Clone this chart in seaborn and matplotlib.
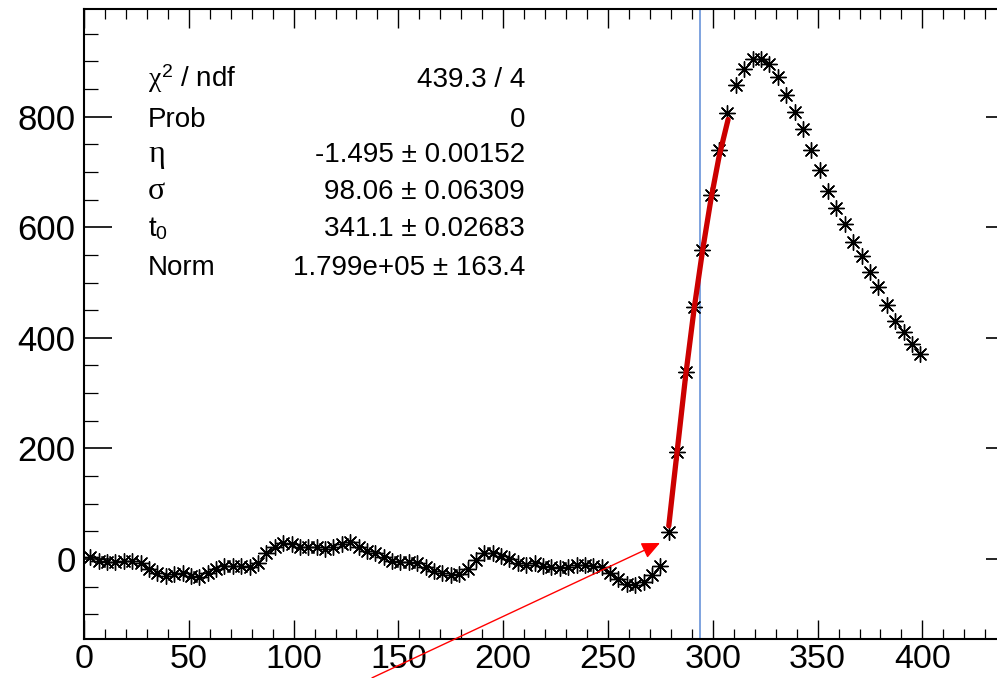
import matplotlib
matplotlib.use("Agg")
import matplotlib.pyplot as plt
from matplotlib.ticker import MultipleLocator
import seaborn as sns
import pandas as pd

sns.set_theme(style="white")
plt.rcParams['font.family'] = ['Liberation Sans', 'DejaVu Sans']
plt.rcParams['mathtext.fontset'] = 'custom'
plt.rcParams['mathtext.rm'] = 'Liberation Sans'
plt.rcParams['mathtext.it'] = 'Liberation Serif'
plt.rcParams['mathtext.default'] = 'it'

# ---- data (bin centres and contents) ----
bin_x = [3, 7, 11, 15, 19, 23, 27, 31, 35, 39, 43, 47, 51, 55, 59, 63, 67, 71, 75, 79,
         83, 87, 91, 95, 99, 103, 107, 111, 115, 119, 123, 127, 131, 135, 139, 143, 147,
         151, 155, 159, 163, 167, 171, 175, 179, 183, 187, 191, 195, 199, 203, 207, 211,
         215, 219, 223, 227, 231, 235, 239, 243, 247, 251, 255, 259, 263, 267, 271, 275,
         279, 283, 287, 291, 295, 299, 303, 307, 311, 315, 319, 323, 327, 331, 335, 339,
         343, 347, 351, 355, 359, 363, 367, 371, 375, 379, 383, 387, 391, 395, 399]
bin_y = [3, -3, -5, -5, -3, -3, -8, -18, -26, -31, -28, -25, -31, -33, -26, -19, -13, -13,
         -13, -14, -7, 10, 22, 29, 27, 22, 22, 21, 18, 22, 28, 31, 21, 15, 10, 3, -3, -5,
         -5, -7, -14, -21, -26, -29, -28, -18, -2, 10, 11, 5, 0, -8, -11, -8, -13, -15,
         -17, -15, -11, -11, -13, -14, -25, -37, -45, -47, -41, -29, -13,
         49, 193, 338, 456, 559, 658, 740, 807, 857, 887, 904, 904, 895, 872, 840, 808,
         777, 740, 703, 665, 634, 605, 574, 548, 519, 492, 460, 430, 410, 389, 371]

fit_x = [279, 281, 283, 287, 291, 295, 299, 303, 307.3]
fit_y = [60, 128, 195, 330, 450, 555, 648, 728, 795]

marker_x = 294

stat_names = [r'$\chi^{2}$ / ndf', 'Prob', 'η', 'σ', r't$_{0}$', 'Norm']
stat_values = ['439.3 / 4', '0', '-1.495 ± 0.00152', '98.06 ± 0.06309',
               '341.1 ± 0.02683', '1.799e+05 ± 163.4']

arrow_tail = (137.4, -215.0)
arrow_head = (274.8, 29.0)

df = pd.DataFrame({'x': bin_x, 'y': bin_y})
fit_df = pd.DataFrame({'x': fit_x, 'y': fit_y})

# ---- figure ----
W, H = 997, 678
fig = plt.figure(figsize=(W / 100, H / 100), dpi=100)
ax = fig.add_axes([84 / W, 1 - 639 / H, (1014 - 84) / W, (639 - 9) / H])

ax.axvline(marker_x, color='#5b8ad6', lw=1.1, zorder=1)

sns.scatterplot(data=df, x='x', y='y', ax=ax, marker=(8, 2, 0), s=125,
                color='black', linewidth=1.0, zorder=3, legend=False)

sns.lineplot(data=fit_df, x='x', y='y', ax=ax, color='#cc0000', linewidth=3.8,
             zorder=4, legend=False)

ax.annotate('', xy=arrow_head, xytext=arrow_tail,
            arrowprops=dict(arrowstyle='-|>,head_length=1.1,head_width=0.5',
                            color='red', lw=1.0, shrinkA=0, shrinkB=0,
                            mutation_scale=10),
            annotation_clip=False, zorder=5)

ax.set_xlim(0, 443.7)
ax.set_ylim(-144.7, 994.7)
ax.set_xlabel('')
ax.set_ylabel('')

ax.xaxis.set_major_locator(MultipleLocator(50))
ax.xaxis.set_minor_locator(MultipleLocator(10))
ax.yaxis.set_major_locator(MultipleLocator(200))
ax.yaxis.set_minor_locator(MultipleLocator(50))

ax.tick_params(axis='x', which='major', direction='in', length=13.7, width=1.0,
               top=True, bottom=True, labelsize=24.5, pad=3.5, color='black')
ax.tick_params(axis='x', which='minor', direction='in', length=7.2, width=0.9,
               top=True, bottom=True, color='black')
ax.tick_params(axis='y', which='major', direction='in', length=20, width=1.2,
               left=True, right=True, labelsize=25, pad=6, color='black')
ax.tick_params(axis='y', which='minor', direction='in', length=10, width=0.9,
               left=True, right=True, color='black')
for lab in ax.get_xticklabels() + ax.get_yticklabels():
    lab.set_color('black')

for sp in ax.spines.values():
    sp.set_visible(True)
    sp.set_linewidth(1.5)
    sp.set_color('black')

baselines = [87, 127, 162, 199, 236, 275]
for name, val, yb in zip(stat_names, stat_values, baselines):
    fam = ['Liberation Serif'] if name in ('η', 'σ') else ['Liberation Sans', 'DejaVu Sans']
    fs = 23 if name in ('η', 'σ') else 20
    fig.text(148 / W, 1 - yb / H, name, ha='left', va='baseline', fontsize=fs,
             family=fam, color='black')
    fig.text(525 / W, 1 - yb / H, val, ha='right', va='baseline', fontsize=20,
             family=['Liberation Sans', 'DejaVu Sans'], color='black')

fig.savefig('out.png', dpi=100)
